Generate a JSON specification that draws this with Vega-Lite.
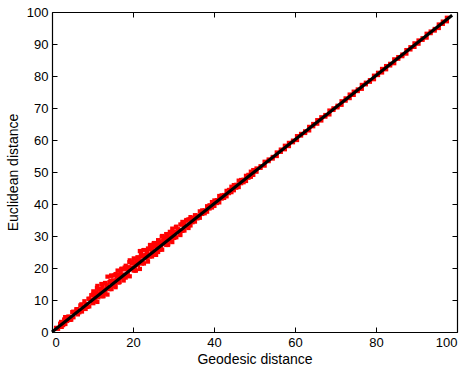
{
  "$schema": "https://vega.github.io/schema/vega-lite/v6.json",
  "autosize": "none",
  "width": 405,
  "height": 320,
  "padding": {"left": 52, "top": 12, "right": 10, "bottom": 34},
  "background": "white",
  "config": {
    "view": {"stroke": null},
    "axis": {
      "domainColor": "black", "domainWidth": 1.2, "tickColor": "black", "tickWidth": 1,
      "tickSize": -5, "grid": false, "labelFont": "Liberation Sans", "labelFontSize": 13,
      "labelColor": "black", "titleFont": "Liberation Sans", "titleFontSize": 14,
      "titleFontWeight": "normal", "titleColor": "black", "labelPadding": 9
    }
  },
  "datasets": {
    "pts": [
      {"g":1,"e":1.3},{"g":1.5,"e":1.0},{"g":2,"e":2.6},{"g":2.4,"e":1.6},{"g":3,"e":3.9},{"g":3.3,"e":2.5},{"g":4,"e":4.8},{"g":4.5,"e":3.8},{"g":5,"e":6.2},{"g":5.3,"e":4.6},{"g":6,"e":7.1},{"g":6.4,"e":5.5},{"g":7,"e":8.3},{"g":7.4,"e":6.4},{"g":8,"e":9.6},{"g":8.3,"e":7.2},{"g":9,"e":10.4},{"g":9.2,"e":8.0},{"g":9.7,"e":11.5},{"g":10,"e":9.1},
      {"g":2.25,"e":3.15},{"g":2.75,"e":2.15},{"g":3.25,"e":4.65},{"g":3.75,"e":3.45},{"g":4.25,"e":4.75},{"g":4.75,"e":3.85},{"g":5.25,"e":6.35},{"g":5.75,"e":5.95},{"g":6.25,"e":7.15},{"g":6.75,"e":6.15},{"g":7.25,"e":8.65},{"g":7.75,"e":7.45},{"g":8.25,"e":8.75},{"g":8.75,"e":7.85},{"g":9.25,"e":10.35},{"g":9.75,"e":9.95},
      {"g":10.2,"e":12.7},{"g":10.2,"e":9.0},{"g":10.7,"e":11.7},{"g":10.7,"e":10.2},{"g":11.2,"e":14.4},{"g":11.2,"e":9.4},{"g":11.7,"e":13.5},{"g":11.7,"e":12.0},{"g":12.2,"e":15.0},{"g":12.2,"e":11.2},{"g":12.7,"e":13.3},{"g":12.7,"e":11.2},{"g":13.2,"e":15.3},{"g":13.2,"e":12.9},{"g":13.7,"e":17.3},{"g":13.7,"e":11.7},{"g":14.2,"e":15.6},{"g":14.2,"e":13.4},{"g":14.7,"e":17.6},{"g":14.7,"e":13.4},{"g":15.2,"e":16.0},{"g":15.2,"e":15.3},{"g":15.7,"e":18.1},{"g":15.7,"e":14.0},{"g":16.2,"e":19.2},{"g":16.2,"e":15.6},{"g":16.7,"e":17.9},{"g":16.7,"e":15.6},{"g":17.2,"e":19.8},{"g":17.2,"e":17.0},{"g":17.7,"e":19.6},{"g":17.7,"e":16.1},{"g":18.2,"e":20.7},{"g":18.2,"e":17.0},{"g":18.7,"e":19.7},{"g":18.7,"e":18.2},{"g":19.2,"e":22.4},{"g":19.2,"e":17.4},{"g":19.7,"e":21.5},{"g":19.7,"e":20.0},{"g":20.2,"e":23.0},{"g":20.2,"e":19.2},{"g":20.7,"e":21.3},{"g":20.7,"e":19.2},{"g":21.2,"e":23.3},{"g":21.2,"e":20.9},{"g":21.7,"e":25.3},{"g":21.7,"e":19.7},{"g":22.2,"e":23.6},{"g":22.2,"e":21.4},{"g":22.7,"e":25.6},{"g":22.7,"e":21.4},{"g":23.2,"e":24.0},{"g":23.2,"e":23.3},{"g":23.7,"e":26.1},{"g":23.7,"e":22.0},{"g":24.2,"e":27.2},{"g":24.2,"e":23.6},{"g":24.7,"e":25.9},{"g":24.7,"e":23.6},{"g":25.2,"e":27.8},{"g":25.2,"e":25.0},{"g":25.7,"e":27.6},{"g":25.7,"e":24.1},{"g":26.2,"e":28.7},{"g":26.2,"e":25.0},{"g":26.7,"e":27.7},{"g":26.7,"e":26.2},{"g":27.2,"e":30.0},{"g":27.2,"e":25.7},{"g":27.7,"e":29.5},{"g":27.7,"e":28.0},{"g":28.2,"e":30.6},{"g":28.2,"e":27.2},{"g":28.7,"e":29.3},{"g":28.7,"e":27.4},{"g":29.2,"e":31.1},{"g":29.2,"e":28.9},{"g":29.7,"e":32.3},{"g":29.7,"e":28.1},{"g":30.2,"e":31.4},{"g":30.2,"e":29.4},{"g":30.7,"e":32.9},{"g":30.7,"e":29.6},{"g":31.2,"e":32.0},{"g":31.2,"e":31.3},{"g":31.7,"e":33.6},{"g":31.7,"e":30.3},{"g":32.2,"e":34.4},{"g":32.2,"e":31.6},{"g":32.7,"e":33.7},{"g":32.7,"e":31.7},{"g":33.2,"e":35.0},{"g":33.2,"e":33.0},{"g":33.7,"e":35.2},{"g":33.7,"e":32.5},{"g":34.2,"e":35.9},{"g":34.2,"e":33.3},{"g":34.7,"e":35.6},{"g":34.7,"e":34.3},
      {"g":10.45,"e":11.15},{"g":10.95,"e":12.45},{"g":11.45,"e":10.85},{"g":11.95,"e":12.35},{"g":12.45,"e":14.45},{"g":12.95,"e":12.05},{"g":13.45,"e":14.55},{"g":13.95,"e":14.15},{"g":14.45,"e":16.05},{"g":14.95,"e":14.55},{"g":15.45,"e":17.75},{"g":15.95,"e":16.85},{"g":16.45,"e":15.45},{"g":16.95,"e":18.65},{"g":17.45,"e":17.95},{"g":17.95,"e":20.15},{"g":18.45,"e":17.75},{"g":18.95,"e":20.25},{"g":19.45,"e":20.05},{"g":19.95,"e":21.95},{"g":20.45,"e":19.95},{"g":20.95,"e":22.35},{"g":21.45,"e":21.75},{"g":21.95,"e":24.35},{"g":22.45,"e":21.65},{"g":22.95,"e":23.95},{"g":23.45,"e":25.25},{"g":23.95,"e":24.15},{"g":24.45,"e":26.55},{"g":24.95,"e":24.35},{"g":25.45,"e":26.65},{"g":25.95,"e":26.45},{"g":26.45,"e":28.35},{"g":26.95,"e":26.65},{"g":27.45,"e":28.55},{"g":27.95,"e":28.35},{"g":28.45,"e":29.95},{"g":28.95,"e":28.55},{"g":29.45,"e":30.25},{"g":29.95,"e":31.25},
      {"g":10.1,"e":11.7},{"g":10.6,"e":9.7},{"g":11.1,"e":13.8},{"g":11.6,"e":11.6},{"g":12.1,"e":13.4},{"g":12.6,"e":11.2},{"g":13.1,"e":15.3},{"g":13.6,"e":14.4},{"g":14.1,"e":13.6},{"g":14.6,"e":17.6},{"g":15.1,"e":16.1},{"g":15.6,"e":14.4},{"g":16.1,"e":17.9},{"g":16.6,"e":17.0},{"g":17.1,"e":19.6},{"g":17.6,"e":16.9},{"g":18.1,"e":19.7},{"g":18.6,"e":17.7},{"g":19.1,"e":21.8},{"g":19.6,"e":19.6},{"g":20.1,"e":21.4},{"g":20.6,"e":19.2},{"g":21.1,"e":23.3},{"g":21.6,"e":22.4},{"g":22.1,"e":21.6},{"g":22.6,"e":25.6},{"g":23.1,"e":24.1},{"g":23.6,"e":22.4},{"g":24.1,"e":25.9},{"g":24.6,"e":25.0},{"g":25.1,"e":27.6},{"g":25.6,"e":24.9},{"g":26.1,"e":27.7},{"g":26.6,"e":25.7},{"g":27.1,"e":29.8},{"g":27.6,"e":27.6},{"g":28.1,"e":29.4},{"g":28.6,"e":27.2},{"g":29.1,"e":31.3},{"g":29.6,"e":30.4},{"g":30.1,"e":29.6},{"g":30.6,"e":32.8},{"g":31.1,"e":32.1},{"g":31.6,"e":30.6},{"g":32.1,"e":33.6},{"g":32.6,"e":33.0},{"g":33.1,"e":34.8},{"g":33.6,"e":33.0},{"g":34.1,"e":35.3},{"g":34.6,"e":35.5},
      {"g":35.3,"e":36.5},{"g":35.3,"e":34.5},{"g":35.9,"e":36.4},{"g":35.9,"e":35.5},{"g":36.5,"e":37.7},{"g":36.5,"e":35.7},{"g":37.1,"e":38.0},{"g":37.1,"e":36.9},{"g":37.7,"e":38.0},{"g":37.7,"e":37.1},{"g":38.3,"e":39.3},{"g":38.3,"e":37.6},{"g":38.9,"e":39.6},{"g":38.9,"e":38.6},{"g":39.5,"e":40.6},{"g":39.5,"e":38.9},{"g":40.1,"e":41.1},{"g":40.1,"e":39.4},{"g":40.7,"e":41.2},{"g":40.7,"e":40.3},{"g":41.3,"e":42.5},{"g":41.3,"e":40.5},{"g":41.9,"e":42.7},{"g":41.9,"e":41.7},{"g":42.5,"e":42.8},{"g":42.5,"e":41.9},{"g":43.1,"e":44.1},{"g":43.1,"e":42.4},{"g":43.7,"e":44.4},{"g":43.7,"e":43.4},{"g":44.3,"e":45.4},{"g":44.3,"e":43.7},{"g":44.9,"e":45.9},{"g":44.9,"e":44.3},{"g":45.5,"e":46.0},{"g":45.5,"e":45.1},{"g":46.1,"e":47.3},{"g":46.1,"e":45.3},{"g":46.7,"e":47.5},{"g":46.7,"e":46.5},{"g":47.3,"e":47.6},{"g":47.3,"e":46.8},{"g":47.9,"e":48.8},{"g":47.9,"e":47.2},{"g":48.5,"e":49.1},{"g":48.5,"e":48.2},{"g":49.1,"e":50.1},{"g":49.1,"e":48.5},{"g":49.7,"e":50.6},{"g":49.7,"e":49.1},
      {"g":50.5,"e":51.1},{"g":50.5,"e":50.1},{"g":51.5,"e":51.8},{"g":51.5,"e":51.3},{"g":52.5,"e":53.2},{"g":52.5,"e":52.0},{"g":53.5,"e":53.9},{"g":53.5,"e":53.4},{"g":54.5,"e":54.7},{"g":54.5,"e":54.2},{"g":55.5,"e":56.1},{"g":55.5,"e":55.0},{"g":56.5,"e":57.0},{"g":56.5,"e":56.3},{"g":57.5,"e":58.2},{"g":57.5,"e":57.1},{"g":58.5,"e":59.1},{"g":58.5,"e":58.1},{"g":59.5,"e":59.8},{"g":59.5,"e":59.3},{"g":60.5,"e":61.2},{"g":60.5,"e":60.0},{"g":61.5,"e":61.9},{"g":61.5,"e":61.4},{"g":62.5,"e":62.7},{"g":62.5,"e":62.2},{"g":63.5,"e":64.1},{"g":63.5,"e":63.0},{"g":64.5,"e":65.0},{"g":64.5,"e":64.3},{"g":65.5,"e":66.2},{"g":65.5,"e":65.1},{"g":66.5,"e":67.1},{"g":66.5,"e":66.1},{"g":67.5,"e":67.8},{"g":67.5,"e":67.3},{"g":68.5,"e":69.2},{"g":68.5,"e":68.0},{"g":69.5,"e":69.9},{"g":69.5,"e":69.4},{"g":70.5,"e":70.7},{"g":70.5,"e":70.2},{"g":71.5,"e":72.1},{"g":71.5,"e":71.0},{"g":72.5,"e":73.0},{"g":72.5,"e":72.3},{"g":73.5,"e":74.2},{"g":73.5,"e":73.1},{"g":74.5,"e":75.1},{"g":74.5,"e":74.1},{"g":75.5,"e":75.8},{"g":75.5,"e":75.3},{"g":76.5,"e":77.2},{"g":76.5,"e":76.0},{"g":77.5,"e":77.9},{"g":77.5,"e":77.4},{"g":78.5,"e":78.7},{"g":78.5,"e":78.2},{"g":79.5,"e":80.1},{"g":79.5,"e":79.0},{"g":80.5,"e":81.0},{"g":80.5,"e":80.3},{"g":81.5,"e":82.2},{"g":81.5,"e":81.1},{"g":82.5,"e":83.1},{"g":82.5,"e":82.1},{"g":83.5,"e":83.8},{"g":83.5,"e":83.3},{"g":84.5,"e":85.2},{"g":84.5,"e":84.0},{"g":85.5,"e":85.9},{"g":85.5,"e":85.4},{"g":86.5,"e":86.7},{"g":86.5,"e":86.2},{"g":87.5,"e":88.1},{"g":87.5,"e":87.0},{"g":88.5,"e":89.0},{"g":88.5,"e":88.3},{"g":89.5,"e":90.2},{"g":89.5,"e":89.1},{"g":90.5,"e":91.1},{"g":90.5,"e":90.1},{"g":91.5,"e":91.8},{"g":91.5,"e":91.3},{"g":92.5,"e":93.2},{"g":92.5,"e":92.0},{"g":93.5,"e":93.9},{"g":93.5,"e":93.4},{"g":94.5,"e":94.7},{"g":94.5,"e":94.2},{"g":95.5,"e":96.1},{"g":95.5,"e":95.0},{"g":96.5,"e":97.0},{"g":96.5,"e":96.3},{"g":97.5,"e":98.2},{"g":97.5,"e":97.1}
    ],
    "fit": [{"g": 0, "e": 0}, {"g": 98.8, "e": 99}]
  },
  "layer": [
    {
      "data": {"name": "pts"},
      "mark": {"type": "square", "color": "#ff0000", "size": 18, "opacity": 1},
      "encoding": {
        "x": {"field": "g", "type": "quantitative", "scale": {"domain": [0, 100], "nice": false},
              "axis": {"values": [0, 20, 40, 60, 80, 100], "title": "Geodesic distance", "titlePadding": 3}},
        "y": {"field": "e", "type": "quantitative", "scale": {"domain": [0, 100], "nice": false},
              "axis": {"values": [0, 10, 20, 30, 40, 50, 60, 70, 80, 90, 100], "title": "Euclidean distance", "titlePadding": 6}}
      }
    },
    {
      "data": {"name": "fit"},
      "mark": {"type": "line", "color": "black", "strokeWidth": 3},
      "encoding": {
        "x": {"field": "g", "type": "quantitative", "scale": {"domain": [0, 100], "nice": false},
              "axis": {"orient": "top", "values": [0, 20, 40, 60, 80, 100], "labels": false, "title": null}},
        "y": {"field": "e", "type": "quantitative", "scale": {"domain": [0, 100], "nice": false},
              "axis": {"orient": "right", "values": [0, 10, 20, 30, 40, 50, 60, 70, 80, 90, 100], "labels": false, "title": null}}
      }
    }
  ],
  "resolve": {"axis": {"x": "independent", "y": "independent"}}
}
